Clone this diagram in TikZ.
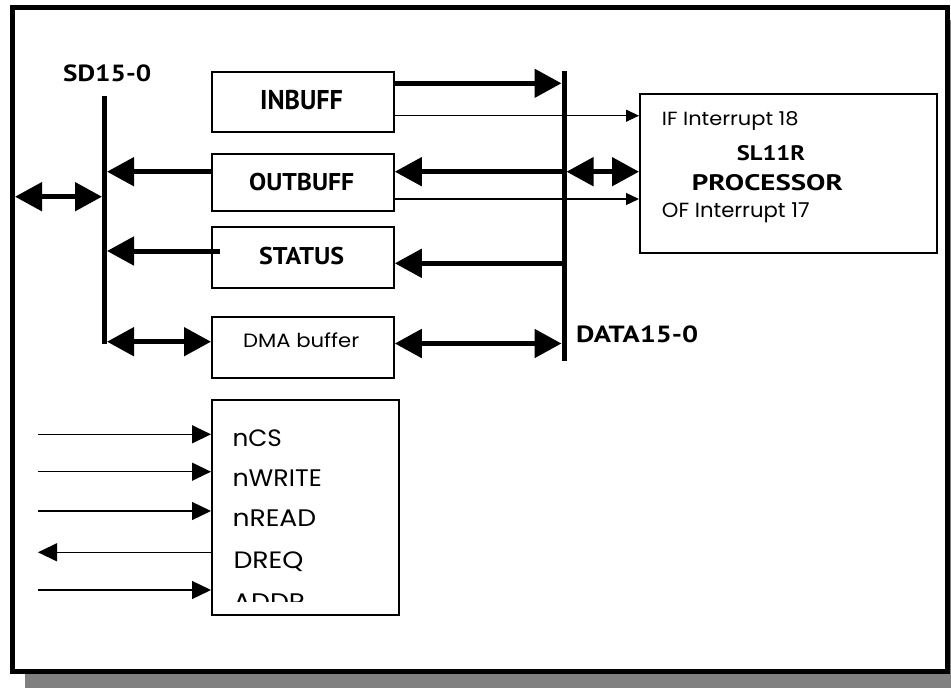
\documentclass[tikz,border=0pt]{standalone}
\usepackage{fontspec}
\usepackage{graphicx}
\usetikzlibrary{arrows.meta}
\newfontfamily\gothic{Poppins}
\newfontfamily\hum{PT Sans}
\newcommand{\fitt}[3]{\resizebox{#1pt}{#2pt}{#3}}
\tikzset{
  busline/.style={line width=5pt},
  fat/.style={line width=5pt,-{Triangle[length=27pt,width=28pt]}},
  fatboth/.style={line width=5pt,{Triangle[length=27pt,width=28pt]}-{Triangle[length=27pt,width=28pt]}},
  thinarr/.style={line width=1.3pt,-{Triangle[length=13pt,width=12pt]}},
  sigarr/.style={line width=1.3pt,-{Triangle[length=19pt,width=18pt]}},
  blk/.style={draw,line width=1.8pt,fill=white,inner sep=0pt,anchor=north west},
  txt/.style={inner sep=0pt,anchor=base west},
}
\begin{document}
\begin{tikzpicture}[x=1pt,y=-1pt]
\useasboundingbox (0,0) rectangle (951,688);
% frame with shadow
\fill[gray!100!black,fill=black!50] (25,20) rectangle (965,688);
\draw[line width=5pt,fill=white] (12.5,7.5) rectangle (947.5,671.5);

% buses
\coordinate (sdtop) at (104.5,96);
\coordinate (sdbot) at (104.5,344);
\coordinate (dtop) at (564,71);
\coordinate (dbot) at (564,361);
\draw[busline] (sdtop) -- (sdbot);
\draw[busline] (dtop) -- (dbot);
\node[txt] (sdlab) at (63,81.3) {\fitt{88}{16.7}{\hum\bfseries SD15-0}};
\node[txt] (dlab) at (576,342.3) {\fitt{122}{16.7}{\hum\bfseries DATA15-0}};

% boxes
\node[blk,minimum width=182pt,minimum height=60pt] (inbuff) at (211,71) {};
\node[blk,minimum width=182pt,minimum height=57pt] (outbuff) at (211,153) {};
\node[blk,minimum width=182pt,minimum height=61pt] (status) at (211,226) {};
\node[blk,minimum width=182pt,minimum height=61pt] (dma) at (211,316) {};
\node[blk,minimum width=297pt,minimum height=159pt] (proc) at (639,93) {};
\node[blk,minimum width=187pt,minimum height=215pt] (ctrl) at (211,399) {};

\node[txt] (tin) at (260,109.3) {\fitt{82.7}{19.3}{\hum\bfseries INBUFF}};
\node[txt] (tout) at (249,190.7) {\fitt{105}{17.3}{\hum\bfseries OUTBUFF}};
\node[txt] (tst) at (259,264) {\fitt{85}{17.3}{\hum\bfseries STATUS}};
\node[txt] (tdma) at (243,347.3) {\fitt{116}{14.7}{\gothic DMA buffer}};
\node[txt] (tif) at (661.7,125.7) {\fitt{136.7}{14}{\gothic IF Interrupt 18}};
\node[txt] (tsl) at (736.7,160) {\fitt{68.3}{15}{\hum\bfseries SL11R}};
\node[txt] (tpr) at (691.7,190) {\fitt{151}{16}{\hum\bfseries PROCESSOR}};
\node[txt] (tof) at (661.7,217.5) {\fitt{147.7}{14.8}{\gothic OF Interrupt 17}};

\node[txt] (tcs) at (232.3,446.7) {\fitt{49.3}{16.7}{\gothic nCS}};
\node[txt] (twr) at (232.3,486) {\fitt{89.3}{16.7}{\gothic nWRITE}};
\node[txt] (trd) at (232.3,526.7) {\fitt{83.7}{16.7}{\gothic nREAD}};
\node[txt] (tdr) at (233.3,568.3) {\fitt{70}{16.7}{\gothic DREQ}};
\begin{scope}
\clip (212,580) rectangle (397,601.7);
\node[txt] (tad) at (233,610) {\fitt{72}{16.7}{\gothic ADDR}};
\end{scope}

% bus attachment points
\coordinate (sdA) at (102,196.7);
\coordinate (fr) at (15,196.7);
\coordinate (sd1) at (107,171.7);
\coordinate (sd2) at (107,251);
\coordinate (sd3) at (107,341.7);
\coordinate (d1) at (561.5,83.3);
\coordinate (d2) at (561.5,171.7);
\coordinate (d2r) at (566.5,171.7);
\coordinate (d3) at (561.5,263.3);
\coordinate (d4) at (561.5,343.5);
\coordinate (stin) at (220,251);

% thick connectors
\draw[fatboth] (fr) -- (sdA);
\draw[fat] (outbuff.west |- sd1) -- (sd1);
\draw[fat] (stin) -- (sd2);
\draw[fatboth] (sd3) -- (dma.west |- sd3);
\draw[fat] (inbuff.east |- d1) -- (d1);
\draw[fat] (d2) -- (outbuff.east |- d2);
\draw[fatboth] (d2r) -- (proc.west |- d2r);
\draw[fat] (d3) -- (status.east |- d3);
\draw[fatboth] (dma.east |- d4) -- (d4);

% thin interrupt lines
\draw[thinarr] (inbuff.east |- 0,115.7) -- (proc.west |- 0,115.7);
\draw[thinarr] (outbuff.east |- 0,199) -- (proc.west |- 0,199);

% control signals
\coordinate (s1) at (38,434.3);
\coordinate (s2) at (38,471.7);
\coordinate (s3) at (38,511);
\coordinate (s4) at (38,552.3);
\coordinate (s5) at (38,590);
\draw[sigarr] (s1) -- (ctrl.west |- s1);
\draw[sigarr] (s2) -- (ctrl.west |- s2);
\draw[sigarr] (s3) -- (ctrl.west |- s3);
\draw[sigarr] (ctrl.west |- s4) -- (s4);
\draw[sigarr] (s5) -- (ctrl.west |- s5);
\end{tikzpicture}
\end{document}
